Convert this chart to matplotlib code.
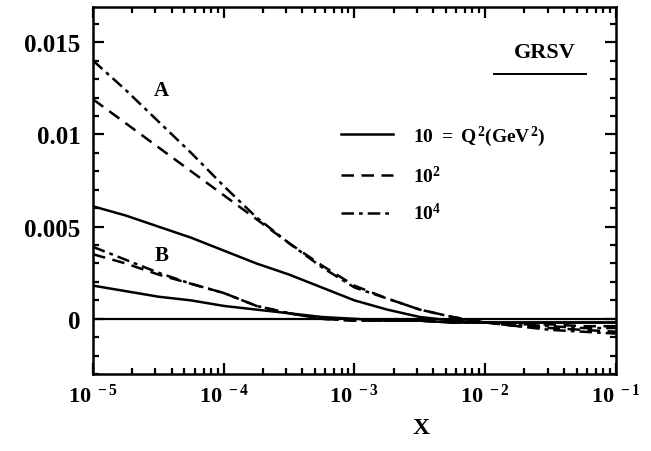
import numpy as np
import matplotlib
matplotlib.use("Agg")
import matplotlib.pyplot as plt
from matplotlib.ticker import LogLocator, MultipleLocator, FixedLocator, NullFormatter

plt.rcParams['font.family'] = ['Liberation Serif', 'DejaVu Serif']
plt.rcParams['font.weight'] = 'bold'
plt.rcParams['mathtext.fontset'] = 'custom'
plt.rcParams['mathtext.rm'] = 'Liberation Serif:bold'
plt.rcParams['mathtext.bf'] = 'Liberation Serif:bold'
plt.rcParams['mathtext.it'] = 'Liberation Serif:bold'

# x grid (log spaced reading points)
x = [1.0e-5, 1.78e-5, 3.16e-5, 5.62e-5, 1.0e-4, 1.78e-4, 3.16e-4, 5.62e-4,
     1.0e-3, 1.78e-3, 3.16e-3, 5.62e-3, 1.0e-2, 1.78e-2, 3.16e-2, 5.62e-2, 1.0e-1]

# curves A
a_q10 = [0.0061, 0.0056, 0.0050, 0.0044, 0.0037, 0.0030, 0.0024, 0.0017,
         0.0010, 0.0005, 0.0001, -0.0001, -0.0002, -0.0002, -0.0002, -0.0002, -0.0002]
a_q100 = [0.0119, 0.0106, 0.0093, 0.0080, 0.0067, 0.0054, 0.0041, 0.0029,
          0.0018, 0.0011, 0.0005, 0.0001, -0.0002, -0.0004, -0.0005, -0.0006, -0.0007]
a_q1e4 = [0.0140, 0.0124, 0.0107, 0.0090, 0.0072, 0.0055, 0.0041, 0.0028,
          0.0017, 0.0011, 0.0005, 0.0001, -0.0002, -0.0004, -0.0006, -0.0007, -0.0008]

# curves B
b_q10 = [0.0018, 0.0015, 0.0012, 0.0010, 0.0007, 0.0005, 0.0003, 0.0001,
         0.0000, -0.0001, -0.0001, -0.0002, -0.0002, -0.0002, -0.0002, -0.0002, -0.0002]
b_q100 = [0.0035, 0.0030, 0.0024, 0.0019, 0.0014, 0.0007, 0.0003, 0.0000,
          -0.0001, -0.0001, -0.0001, -0.0002, -0.0002, -0.0003, -0.0003, -0.0004, -0.0004]
b_q1e4 = [0.0039, 0.0032, 0.0025, 0.0019, 0.0014, 0.0007, 0.0003, 0.0000,
          -0.0001, -0.0001, -0.0001, -0.0002, -0.0002, -0.0003, -0.0004, -0.0005, -0.0005]

xticks = [1e-5, 1e-4, 1e-3, 1e-2, 1e-1]
xticklabels = [r'$10^{\ -5}$', r'$10^{\ -4}$', r'$10^{\ -3}$', r'$10^{\ -2}$', r'$10^{\ -1}$']
yticks = [0, 0.005, 0.01, 0.015]
yticklabels = ['0', '0.005', '0.01', '0.015']

fig = plt.figure(figsize=(6.51, 4.52), dpi=100)
ax = fig.add_axes([0.143, 0.170, 0.803, 0.812])

lw = 1.8
dashed = (0, (5, 3))
dashdot = (0, (5, 2, 1.5, 2))

ax.axhline(0, color='black', lw=1.6)
l1, = ax.plot(x, a_q10, color='black', lw=lw, linestyle='-')
l2, = ax.plot(x, a_q100, color='black', lw=lw, linestyle=dashed)
l3, = ax.plot(x, a_q1e4, color='black', lw=lw, linestyle=dashdot)
ax.plot(x, b_q10, color='black', lw=lw, linestyle='-')
ax.plot(x, b_q100, color='black', lw=lw, linestyle=dashed)
ax.plot(x, b_q1e4, color='black', lw=lw, linestyle=dashdot)

ax.set_xscale('log')
ax.set_xlim(1e-5, 1e-1)
ax.set_ylim(-0.003, 0.0169)

ax.xaxis.set_major_locator(FixedLocator(xticks))
ax.set_xticklabels(xticklabels, fontsize=16)
ax.xaxis.set_minor_locator(LogLocator(base=10, subs=np.arange(2, 10)))
ax.xaxis.set_minor_formatter(NullFormatter())
ax.set_yticks(yticks)
ax.set_yticklabels(yticklabels, fontsize=18, fontweight='bold')
ax.yaxis.set_minor_locator(MultipleLocator(0.001))

ax.tick_params(which='both', direction='in', top=True, right=True, width=1.6, color='black')
ax.tick_params(which='major', length=8)
ax.tick_params(axis='x', which='major', pad=7)
ax.tick_params(axis='y', which='major', pad=9)
ax.tick_params(which='minor', length=4.5)
for s in ax.spines.values():
    s.set_linewidth(1.8)

ax.text(0.627, -0.145, 'X', transform=ax.transAxes, ha='center', va='center',
        fontsize=17, fontweight='bold')

ax.text(0.131, 0.773, 'A', transform=ax.transAxes, ha='center', va='center',
        fontsize=15, fontweight='bold')
ax.text(0.131, 0.324, 'B', transform=ax.transAxes, ha='center', va='center',
        fontsize=15, fontweight='bold')

ax.text(0.924, 0.878, 'GRSV', transform=ax.transAxes, ha='right', va='center',
        fontsize=16, fontweight='bold')
ax.plot([0.767, 0.943], [0.817, 0.817], transform=ax.transAxes, color='black', lw=1.4)

leg = ax.legend([l1, l2, l3],
                [r'$10\ =\ Q^2(GeV^2)$', r'$10^2$', r'$10^4$'],
                loc='upper left', bbox_to_anchor=(0.44, 0.73), frameon=False,
                fontsize=14, handlelength=2.7, handletextpad=1.0, labelspacing=0.85)

fig.savefig('out.png', dpi=100)
